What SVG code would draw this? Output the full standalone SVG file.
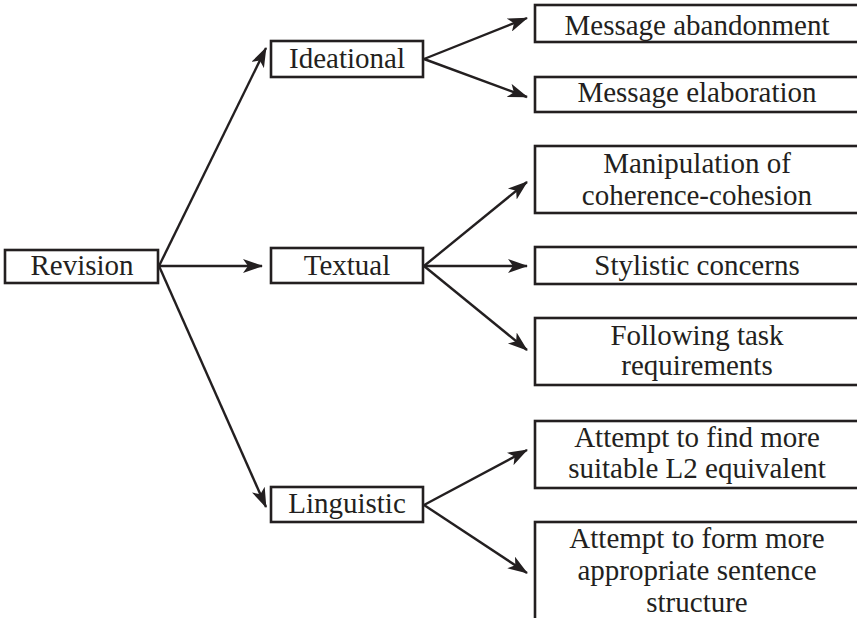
<svg xmlns="http://www.w3.org/2000/svg" width="857" height="618" viewBox="0 0 857 618">
<style>
rect{fill:#fff;stroke:#231f20;stroke-width:2.6}
text{font-family:"Liberation Serif","Times New Roman",serif;font-size:29px;fill:#231f20;text-anchor:middle}
.c line{stroke:#231f20;stroke-width:2.4;marker-end:url(#ah)}
</style>
<defs>
<marker id="ah" viewBox="0 0 20 14" refX="19" refY="7" markerWidth="20" markerHeight="14" markerUnits="userSpaceOnUse" orient="auto">
<path d="M0,0 L20,7 L0,14 L5,7 z" fill="#231f20"/>
</marker>
</defs>
<g class="c" id="connectors">
<line x1="159" y1="266" x2="266" y2="48"/>
<line x1="159" y1="266" x2="262" y2="266"/>
<line x1="159" y1="266" x2="266" y2="507"/>
<line x1="424" y1="59" x2="527" y2="18"/>
<line x1="424" y1="59" x2="527" y2="97"/>
<line x1="424" y1="266" x2="527" y2="182"/>
<line x1="424" y1="266" x2="527" y2="266"/>
<line x1="424" y1="266" x2="527" y2="350"/>
<line x1="424" y1="505" x2="527" y2="450"/>
<line x1="424" y1="505" x2="527" y2="573"/>
</g>
<g id="revision"><rect x="5" y="250" width="153" height="33"/><text x="82" y="275">Revision</text></g>
<g id="ideational"><rect x="271" y="41" width="152" height="36"/><text x="347" y="68">Ideational</text></g>
<g id="textual"><rect x="271" y="248" width="152" height="35"/><text x="347" y="275">Textual</text></g>
<g id="linguistic"><rect x="271" y="487" width="152" height="35"/><text x="347" y="513">Linguistic</text></g>
<g id="abandonment"><rect x="535" y="5" width="340" height="37"/><text x="697" y="35">Message abandonment</text></g>
<g id="elaboration"><rect x="535" y="77" width="340" height="35"/><text x="697" y="102">Message elaboration</text></g>
<g id="coherence"><rect x="535" y="146" width="340" height="67"/><text x="697" y="173">Manipulation of</text><text x="697" y="205">coherence-cohesion</text></g>
<g id="stylistic"><rect x="535" y="247" width="340" height="37"/><text x="697" y="275">Stylistic concerns</text></g>
<g id="task"><rect x="535" y="318" width="340" height="67"/><text x="697" y="345">Following task</text><text x="697" y="375">requirements</text></g>
<g id="l2"><rect x="535" y="421" width="340" height="67"/><text x="697" y="447">Attempt to find more</text><text x="697" y="478">suitable L2 equivalent</text></g>
<g id="sentence"><rect x="535" y="522" width="340" height="120"/><text x="697" y="548">Attempt to form more</text><text x="697" y="580">appropriate sentence</text><text x="697" y="612">structure</text></g>
</svg>
